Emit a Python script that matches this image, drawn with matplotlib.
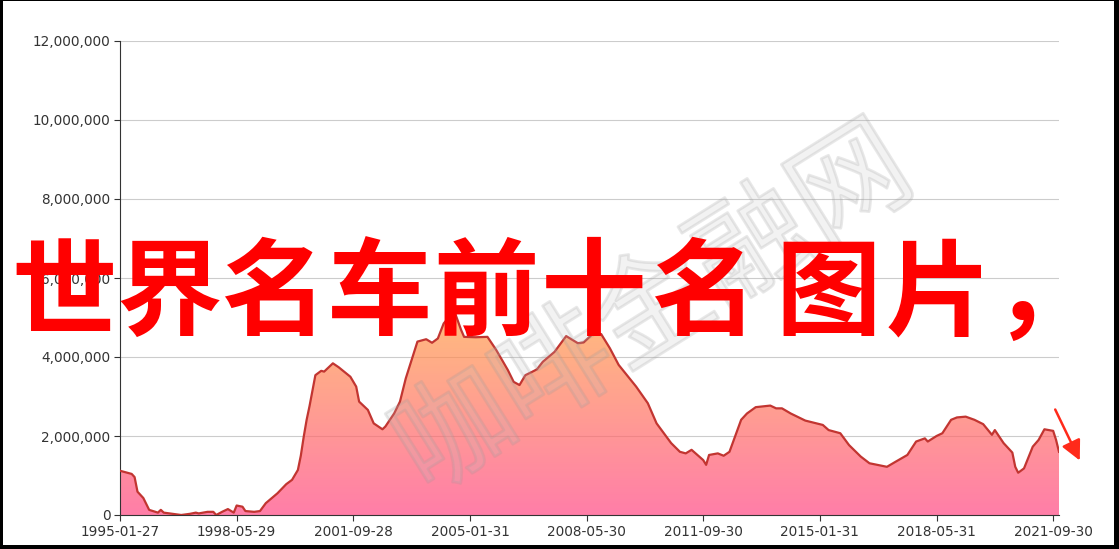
import numpy as np
import matplotlib
matplotlib.use("Agg")
import matplotlib.pyplot as plt
import matplotlib.patheffects as pe
from matplotlib.colors import LinearSegmentedColormap
from matplotlib.patches import Rectangle

# months since 1995-01 and values
months = [0, 2, 4, 5, 6, 8, 10, 13, 14, 15, 18, 21, 24, 26, 27, 30, 32, 33, 35, 37,
          39, 40, 42, 43, 46, 48, 50, 54, 57, 59, 61, 62, 63, 64, 65, 67, 69, 70, 72, 73,
          75, 79, 81, 82, 85, 87, 90, 91, 94, 96, 98, 102, 105, 107, 109, 111, 113, 115, 117, 118,
          122, 126, 129, 133, 135, 137, 139, 142, 143, 145, 149, 153, 157, 159, 162, 165, 168, 171, 177, 181,
          184, 189, 192, 194, 196, 200, 201, 202, 205, 207, 209, 213, 215, 218, 223, 225, 227, 230, 235, 241,
          243, 247, 250, 254, 257, 263, 266, 270, 273, 276, 277, 280, 282, 285, 287, 290, 293, 296, 299, 300,
          303, 306, 307, 308, 310, 313, 315, 317, 320, 321, 322]
values = [1.12, 1.08, 1.04, 0.96, 0.59, 0.43, 0.13, 0.06, 0.13, 0.06, 0.03, 0.00, 0.03, 0.06, 0.04, 0.08, 0.08, 0.00, 0.08, 0.15,
          0.06, 0.24, 0.21, 0.10, 0.08, 0.10, 0.30, 0.55, 0.78, 0.89, 1.14, 1.50, 1.98, 2.41, 2.76, 3.54, 3.65, 3.63, 3.77, 3.84,
          3.74, 3.50, 3.25, 2.87, 2.66, 2.32, 2.17, 2.24, 2.57, 2.87, 3.46, 4.39, 4.45, 4.36, 4.47, 4.85, 5.02, 5.09, 4.68, 4.51,
          4.50, 4.51, 4.18, 3.67, 3.37, 3.29, 3.54, 3.65, 3.69, 3.88, 4.13, 4.53, 4.35, 4.37, 4.58, 4.58, 4.22, 3.80, 3.25, 2.83,
          2.32, 1.82, 1.60, 1.56, 1.65, 1.39, 1.27, 1.52, 1.56, 1.50, 1.60, 2.41, 2.57, 2.73, 2.77, 2.70, 2.70, 2.57, 2.39, 2.28,
          2.15, 2.07, 1.77, 1.48, 1.31, 1.22, 1.35, 1.52, 1.86, 1.94, 1.86, 2.00, 2.07, 2.41, 2.47, 2.49, 2.41, 2.30, 2.03, 2.15,
          1.82, 1.58, 1.22, 1.07, 1.18, 1.73, 1.90, 2.17, 2.13, 1.90, 1.60]
values = [v * 1e6 for v in values]

tick_months = [0, 40, 80, 120, 160, 200, 240, 280, 320]
tick_labels = ['1995-01-27', '1998-05-29', '2001-09-28', '2005-01-31', '2008-05-30',
               '2011-09-30', '2015-01-31', '2018-05-31', '2021-09-30']
y_ticks = [0, 2e6, 4e6, 6e6, 8e6, 10e6, 12e6]

title_text = '世界名车前十名图片，'
watermark = '咖啡金融网'

W, H = 1119, 549
fig = plt.figure(figsize=(W / 100, H / 100), dpi=100)
fig.patch.set_facecolor('white')

left, right, top, bottom = 120, 1059, 41, 515
ax = fig.add_axes([left / W, (H - bottom) / H, (right - left) / W, (bottom - top) / H])
ax.set_xlim(0, 322)
ax.set_ylim(0, 12e6)

# grid
for yv in y_ticks[1:]:
    ax.axhline(yv, color='#cccccc', lw=0.8, zorder=1)

# gradient fill
x = np.array(months)
y = np.array(values)
poly = ax.fill_between(x, y, 0, color='none', lw=0)
cmap = LinearSegmentedColormap.from_list('g', ['#ff4683', '#ff9e44'])
grad = np.linspace(0, 1, 256).reshape(-1, 1)
im = ax.imshow(grad, extent=[0, 322, 0, max(values)], origin='lower', aspect='auto',
               cmap=cmap, alpha=0.7, zorder=2)
im.set_clip_path(poly.get_paths()[0], transform=ax.transData)
ax.plot(x, y, color='#c23531', lw=1.6, zorder=3, solid_joinstyle='round')

# axes styling
for s in ['top', 'right']:
    ax.spines[s].set_visible(False)
for s in ['left', 'bottom']:
    ax.spines[s].set_color('#333333')
    ax.spines[s].set_linewidth(0.8)
ax.set_yticks(y_ticks)
ax.set_yticklabels([f'{int(v):,}' for v in y_ticks])
ax.set_xticks(tick_months)
ax.set_xticklabels(tick_labels)
ax.tick_params(axis='both', colors='#333333', labelcolor='#333333', labelsize=9.8,
               length=4, width=0.8)
ax.tick_params(axis='y', pad=3)
ax.tick_params(axis='x', pad=3)

cjk = ['Noto Sans CJK SC', 'DejaVu Sans']

# watermark
fig.text(655 / W, 1 - 312 / H, watermark, rotation=32, ha='center', va='center',
         fontsize=84, family=cjk, fontweight='light',
         color=(0.75, 0.75, 0.75, 0.10), zorder=5,
         path_effects=[pe.withStroke(linewidth=2.0, foreground=(0.6, 0.6, 0.6, 0.22))])

# big red title, placed char by char
char_x = [64, 169, 274, 380, 486, 594, 704, 828, 938, 1046]
for ch, cx in zip(title_text, char_x):
    fig.text(cx / W, 1 - 296 / H, ch, ha='center', va='center',
             fontsize=76, fontweight='bold', color='#ff0000', family=cjk, zorder=6)

# red arrow
ax.annotate('', xy=(1081 / W, 1 - 463 / H), xytext=(1054 / W, 1 - 407 / H),
            xycoords='figure fraction', textcoords='figure fraction',
            arrowprops=dict(arrowstyle='-|>', color='#ff2a1a', lw=1.8, mutation_scale=30),
            annotation_clip=False)

# black frame
for r in [(0, 0, 3, H), (0, 0, W, 1), (W - 5, 0, 5, H), (0, H - 4, W, 4)]:
    fig.patches.append(Rectangle((r[0] / W, 1 - (r[1] + r[3]) / H), r[2] / W, r[3] / H,
                                 transform=fig.transFigure, color='black', lw=0))

fig.savefig('out.png', dpi=100)
